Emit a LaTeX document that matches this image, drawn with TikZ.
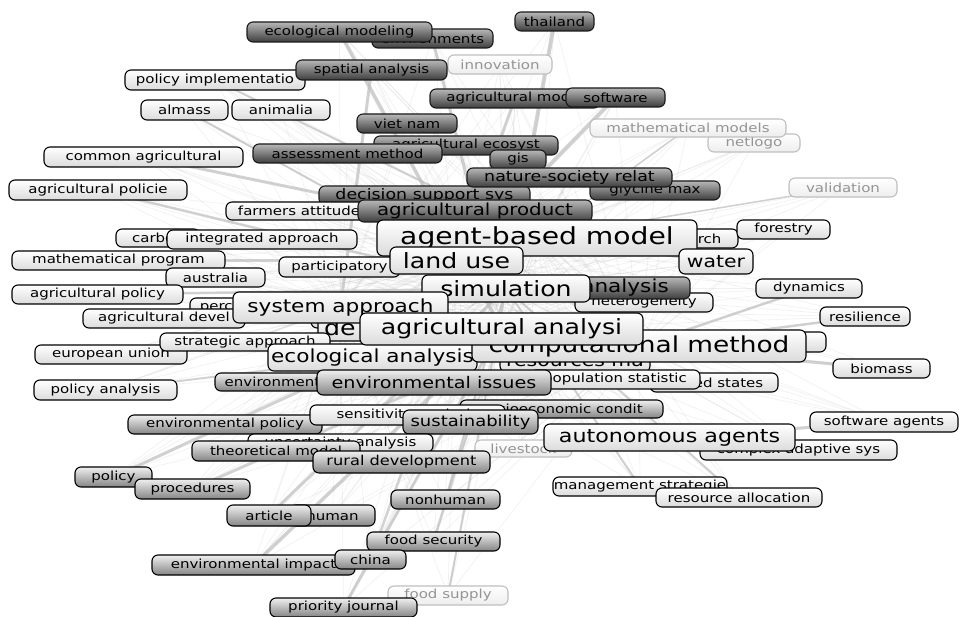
\documentclass[tikz,border=0pt]{standalone}
\usepackage{fontspec}
\setmainfont{DejaVu Sans}[FakeStretch=1.2]
\pgfdeclarelayer{bgfill}
\pgfdeclarelayer{edges}
\pgfsetlayers{bgfill,edges,main}
\tikzset{
 kw/.style={rounded corners=6pt, draw=black, line width=1.1pt, inner sep=0pt, font=\fontsize{12.5}{13}\selectfont, text=black},
 wn/.style={kw, top color=white, bottom color=black!14},
 gn/.style={kw, top color=black!6, bottom color=black!48},
 dn/.style={kw, top color=black!28, bottom color=black!76, draw=black!90},
 fn/.style={kw, draw=black!25, text=black!42, top color=white, bottom color=black!7},
 fs/.style={font=\fontsize{#1}{#1}\selectfont},
 link/.style={draw=black!25, line width=#1, opacity=0.7, line cap=round},
 link/.default=3pt,
 web/.style={draw=black!40, line width=0.7pt, opacity=0.13},
}
\newcommand\K[7]{%
 \pgfmathsetmacro\kwW{#5-#3}\pgfmathsetmacro\kwH{#6-#4}%
 \pgfmathsetmacro\kwX{(#3+#5)/2}\pgfmathsetmacro\kwY{(#4+#6)/2}%
 \node[#1, minimum width=\kwW pt, minimum height=\kwH pt] (#2) at (\kwX,\kwY) {#7};}
\begin{document}
\begin{tikzpicture}[x=1pt,y=-1pt]
\begin{pgfonlayer}{bgfill}
\fill[white] (0,0) rectangle (961,617);
\end{pgfonlayer}
\useasboundingbox (0,0) rectangle (961,617);
% nodes in stacking order
\K{dn}{env}{372}{29}{493}{48}{environments}
\K{dn}{ecm}{247}{22}{432}{42}{ecological modeling}
\K{dn}{tha}{515}{12}{594}{31}{thailand}
\K{fn}{inn}{448}{55}{552}{74}{innovation}
\K{wn}{pim}{125}{70}{305}{90}{policy implementatio}
\K{dn}{spa}{296}{60}{447}{80}{spatial analysis}
\K{wn}{alm}{141}{100}{228}{120}{almass}
\K{wn}{ani}{232}{100}{330}{120}{animalia}
\K{dn}{agm}{430}{89}{600}{108}{agricultural model}
\K{dn}{sw}{566}{88}{665}{107}{software}
\K{fn}{nl}{708}{134}{800}{152}{netlogo}
\K{fn}{mm}{590}{119}{786}{137}{mathematical models}
\K{dn}{agc}{374}{136}{558}{155}{agricultural ecosyst}
\K{dn}{vn}{357}{114}{457}{133}{viet nam}
\K{wn}{cag}{44}{147}{243}{167}{common agricultural}
\K{dn}{asm}{253}{144}{442}{163}{assessment method}
\K{dn}{gly}{590}{181}{720}{200}{glycine max}
\K{dn}{gis}{490}{150}{546}{169}{gis}
\K{dn,fs=14.5}{dss}{319}{186}{530}{205}{decision support sys}
\K{dn,fs=14.5}{nsr}{467}{168}{672}{187}{nature-society relat}
\K{fn}{val}{789}{178}{897}{197}{validation}
\K{wn}{apl}{9}{180}{187}{200}{agricultural policie}
\K{wn}{far}{226}{202}{380}{220}{farmers attitudes}
\K{dn,fs=16.5}{apr}{358}{200}{592}{222}{agricultural product}
\K{wn}{carb}{116}{229}{200}{247}{carbon}
\K{wn}{iap}{167}{230}{357}{249}{integrated approach}
\K{wn}{res}{640}{229}{738}{248}{research}
\K{wn}{fore}{737}{220}{830}{239}{forestry}
\K{wn,fs=23.5}{abm}{377}{220}{697}{256}{agent-based model}
\K{wn}{mp}{12}{251}{225}{270}{mathematical program}
\K{wn}{par}{279}{257}{400}{277}{participatory}
\K{wn,fs=21}{lu}{390}{247}{523}{274}{land use}
\K{wn,fs=17}{wat}{679}{249}{753}{274}{water}
\K{wn}{aus}{166}{268}{265}{287}{australia}
\K{wn}{apo}{12}{285}{183}{304}{agricultural policy}
\K{wn}{het}{575}{293}{713}{312}{heterogeneity}
\K{dn,fs=18}{ana}{560}{277}{690}{299}{analysis}
\K{wn}{am}{311}{310}{420}{328}{adaptive ma}
\K{wn,fs=21}{sim}{422}{275}{590}{302}{simulation}
\K{wn}{dyn}{756}{279}{862}{298}{dynamics}
\K{wn}{per}{190}{298}{290}{316}{perception}
\K{wn}{adv}{83}{309}{245}{328}{agricultural devel}
\K{wn,fs=21,text width=70pt,align=left}{de}{318}{314}{400}{341}{de}
\K{wn,fs=18}{sa}{233}{292}{448}{323}{system approach}
\K{wn}{resi}{820}{307}{910}{326}{resilience}
\K{wn}{cmb}{700}{332}{826}{352}{}
\K{wn,fs=17}{rm}{500}{352}{650}{372}{resources ma}
\K{wn}{eu}{35}{345}{187}{364}{european union}
\K{wn}{sta}{160}{333}{330}{351}{strategic approach}
\K{wn,fs=18}{eca}{268}{344}{477}{371}{ecological analysis}
\K{wn,fs=22}{cm}{472}{330}{806}{362}{computational method}
\K{wn,fs=21}{aga}{360}{313}{643}{345}{agricultural analysi}
\K{gn}{envt}{215}{373}{330}{391}{environment}
\K{wn}{us}{650}{373}{778}{392}{united states}
\K{wn}{pop}{530}{370}{700}{389}{population statistic}
\K{gn,fs=16}{ei}{317}{370}{551}{395}{environmental issues}
\K{wn}{pa}{34}{380}{177}{400}{policy analysis}
\K{wn}{bio}{833}{359}{930}{378}{biomass}
\K{gn}{sec}{460}{400}{663}{418}{socioeconomic condit}
\K{gn}{ep}{128}{415}{322}{434}{environmental policy}
\K{wn}{sen}{310}{405}{505}{425}{sensitivity analysis}
\K{wn}{swa}{810}{412}{958}{432}{software agents}
\K{fn}{liv}{475}{440}{572}{457}{livestock}
\K{gn,fs=15}{sus}{403}{410}{538}{434}{sustainability}
\K{wn}{cas}{700}{440}{897}{460}{complex adaptive sys}
\K{wn,fs=18.5}{aa}{544}{424}{795}{451}{autonomous agents}
\K{wn}{unc}{248}{434}{433}{452}{uncertainty analysis}
\K{gn}{tm}{192}{441}{360}{461}{theoretical model}
\K{gn,fs=13.5}{rd}{313}{451}{490}{473}{rural development}
\K{gn}{pol}{75}{467}{152}{487}{policy}
\K{gn}{pro}{135}{479}{250}{499}{procedures}
\K{gn}{nh}{391}{490}{500}{509}{nonhuman}
\K{wn}{ms}{553}{477}{727}{496}{management strategie}
\K{wn}{ra}{656}{488}{822}{507}{resource allocation}
\K{gn}{hum}{290}{505}{375}{526}{human}
\K{gn}{art}{227}{505}{311}{526}{article}
\K{gn}{fsec}{367}{532}{500}{551}{food security}
\K{gn}{eimp}{152}{555}{355}{575}{environmental impact}
\K{gn}{chi}{335}{550}{406}{569}{china}
\K{fn}{fsu}{388}{586}{508}{605}{food supply}
\K{gn}{pj}{270}{598}{417}{617}{priority journal}
% connectors behind the nodes
\begin{pgfonlayer}{edges}
\foreach \a in {ecm,env,tha,inn,pim,spa,alm,ani,agm,sw,nl,mm,agc,vn,cag,asm,gly,gis,dss,nsr,val,apl,far,apr,carb,iap,res,fore,mp,par,wat,aus,apo,het,ana,am,dyn,per,adv,de,resi,rm,eu,sta,eca,envt,us,pop,ei,pa,bio,sec,ep,sen,swa,liv,sus,cas,aa,unc,tm,rd,pol,pro,nh,ms,ra,hum,art,fsec,eimp,chi,fsu,pj}
  \foreach \b in {abm,sim,aga,cm,lu,sa}
    \draw[web] (\a.center) -- (\b.center);
\draw[link=4pt] (tha.center) -- (sim.center);
\draw[link=3.5pt] (ecm.center) -- (aga.center);
\draw[link] (env.center) -- (apr.center);
\draw[link] (spa.center) -- (sa.center);
\draw[link=4pt] (sw.center) -- (lu.center);
\draw[link] (agm.center) -- (lu.center);
\draw[link=2pt] (pim.center) -- (abm.center);
\draw[link=2pt] (alm.center) -- (lu.center);
\draw[link=3pt] (cag.center) -- (abm.center);
\draw[link=2.5pt] (apl.center) -- (sim.center);
\draw[link=4pt] (far.center) -- (abm.center);
\draw[link=3pt] (mp.center) -- (lu.center);
\draw[link=2.5pt] (apo.center) -- (sim.center);
\draw[link=2pt] (eu.center) -- (aga.center);
\draw[link=2pt] (pa.center) -- (eca.center);
\draw[link=3pt] (pol.center) -- (eca.center);
\draw[link=3pt] (pro.center) -- (ei.center);
\draw[link=3.5pt] (eimp.center) -- (aga.center);
\draw[link=3pt] (art.center) -- (sim.center);
\draw[link=3pt] (pj.center) -- (aga.center);
\draw[link=2.5pt] (chi.center) -- (ei.center);
\draw[link=2.5pt] (fsec.center) -- (sus.center);
\draw[link=2pt] (nh.center) -- (sim.center);
\draw[link=2pt] (fsu.center) -- (sim.center);
\draw[link=2.5pt] (dyn.center) -- (cm.center);
\draw[link=2.5pt] (resi.center) -- (cm.center);
\draw[link=3pt] (bio.center) -- (cm.center);
\draw[link=3pt] (swa.center) -- (aa.center);
\draw[link=2pt] (cas.center) -- (aa.center);
\draw[link=2pt] (ra.center) -- (sim.center);
\draw[link=2pt] (ms.center) -- (sim.center);
\draw[link=2.5pt] (fore.center) -- (abm.center);
\draw[link=3pt] (wat.center) -- (abm.center);
\draw[link=1.5pt] (val.center) -- (abm.center);
\draw[link=1.5pt] (mm.center) -- (abm.center);
\end{pgfonlayer}
\end{tikzpicture}
\end{document}
